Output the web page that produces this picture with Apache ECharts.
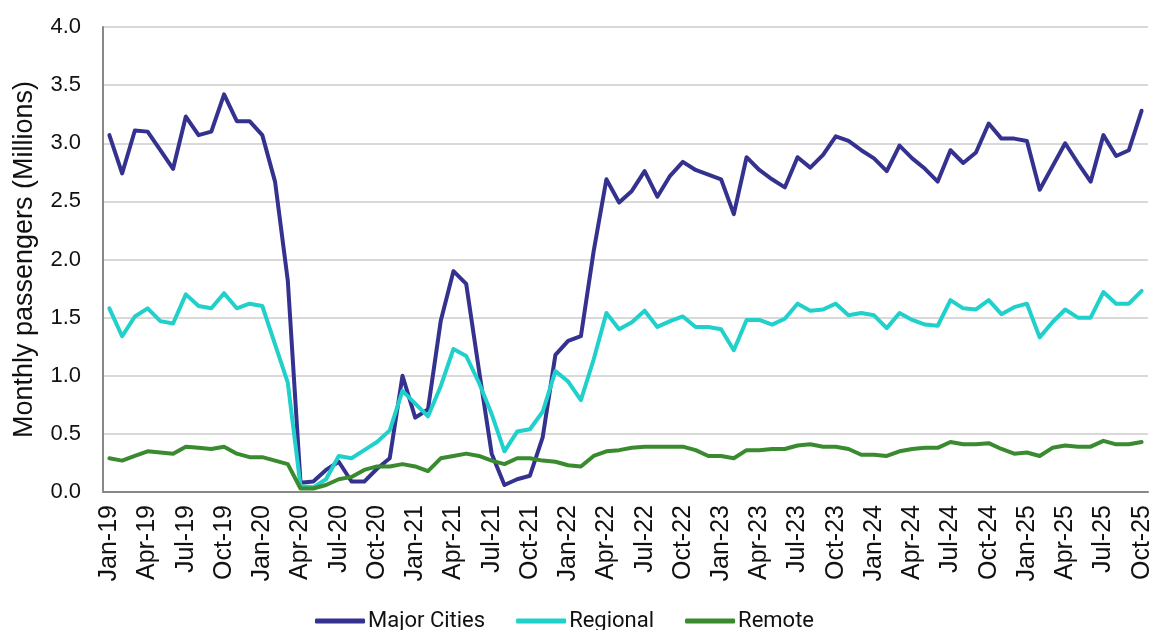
<!DOCTYPE html>
<html>
<head>
<meta charset="utf-8">
<script src="https://cdn.jsdelivr.net/npm/echarts@6/dist/echarts.min.js"></script>
<style>
  html, body { margin: 0; padding: 0; background: #fff; }
  #main { width: 1153px; height: 630px; }
</style>
</head>
<body>
<div id="main"></div>
<script>
var monthNames = ['Jan', 'Feb', 'Mar', 'Apr', 'May', 'Jun', 'Jul', 'Aug', 'Sep', 'Oct', 'Nov', 'Dec'];
var years = ['19', '20', '21', '22', '23', '24', '25'];
var lastYearMonths = 10; // 2025 runs to Oct

var months = [];
years.forEach(function (y, yi) {
    var n = yi === years.length - 1 ? lastYearMonths : 12;
    for (var m = 0; m < n; m++) months.push(monthNames[m] + '-' + y);
});

var majorCities = [
    3.07, 2.74, 3.11, 3.10, 2.94, 2.78, 3.23, 3.07, 3.10, 3.42, 3.19, 3.19,
    3.07, 2.67, 1.82, 0.08, 0.09, 0.19, 0.26, 0.09, 0.09, 0.20, 0.29, 1.00,
    0.64, 0.71, 1.47, 1.90, 1.79, 1.05, 0.33, 0.06, 0.11, 0.14, 0.47, 1.18,
    1.30, 1.34, 2.07, 2.69, 2.49, 2.59, 2.76, 2.54, 2.72, 2.84, 2.77, 2.73,
    2.69, 2.39, 2.88, 2.77, 2.69, 2.62, 2.88, 2.79, 2.90, 3.06, 3.02, 2.94,
    2.87, 2.76, 2.98, 2.87, 2.78, 2.67, 2.94, 2.83, 2.92, 3.17, 3.04, 3.04,
    3.02, 2.60, 2.80, 3.00, 2.83, 2.67, 3.07, 2.89, 2.94, 3.28
];
var regional = [
    1.58, 1.34, 1.51, 1.58, 1.47, 1.45, 1.70, 1.60, 1.58, 1.71, 1.58, 1.62,
    1.60, 1.27, 0.94, 0.05, 0.04, 0.11, 0.31, 0.29, 0.36, 0.43, 0.53, 0.87,
    0.76, 0.65, 0.91, 1.23, 1.17, 0.94, 0.67, 0.35, 0.52, 0.54, 0.69, 1.04,
    0.95, 0.79, 1.14, 1.54, 1.40, 1.46, 1.56, 1.42, 1.47, 1.51, 1.42, 1.42,
    1.40, 1.22, 1.48, 1.48, 1.44, 1.49, 1.62, 1.56, 1.57, 1.62, 1.52, 1.54,
    1.52, 1.41, 1.54, 1.48, 1.44, 1.43, 1.65, 1.58, 1.57, 1.65, 1.53, 1.59,
    1.62, 1.33, 1.46, 1.57, 1.50, 1.50, 1.72, 1.62, 1.62, 1.73
];
var remote = [
    0.29, 0.27, 0.31, 0.35, 0.34, 0.33, 0.39, 0.38, 0.37, 0.39, 0.33, 0.30,
    0.30, 0.27, 0.24, 0.03, 0.03, 0.06, 0.11, 0.13, 0.19, 0.22, 0.22, 0.24,
    0.22, 0.18, 0.29, 0.31, 0.33, 0.31, 0.27, 0.24, 0.29, 0.29, 0.27, 0.26,
    0.23, 0.22, 0.31, 0.35, 0.36, 0.38, 0.39, 0.39, 0.39, 0.39, 0.36, 0.31,
    0.31, 0.29, 0.36, 0.36, 0.37, 0.37, 0.40, 0.41, 0.39, 0.39, 0.37, 0.32,
    0.32, 0.31, 0.35, 0.37, 0.38, 0.38, 0.43, 0.41, 0.41, 0.42, 0.37, 0.33,
    0.34, 0.31, 0.38, 0.40, 0.39, 0.39, 0.44, 0.41, 0.41, 0.43
];

var chartDom = document.getElementById('main');
var myChart = echarts.init(chartDom, null, { renderer: 'canvas' });

function lineSeries(name, data, color) {
    return {
        name: name,
        type: 'line',
        data: data,
        symbol: 'none',
        color: color,
        lineStyle: { width: 4, color: color, join: 'round', cap: 'round' },
        emphasis: { disabled: true }
    };
}

var option = {
    animation: false,
    backgroundColor: '#ffffff',
    grid: { left: 103, right: 5, top: 27, bottom: 138, containLabel: false, outerBoundsMode: 'none' },
    legend: {
        top: 605,
        left: 310,
        itemWidth: 50,
        itemHeight: 5,
        itemGap: 31,
        icon: 'roundRect',
        textStyle: { fontFamily: 'Roboto', fontSize: 22, color: '#111', padding: [0, 0, 0, -2] },
        data: ['Major Cities', 'Regional', 'Remote']
    },
    xAxis: {
        type: 'category',
        data: months,
        boundaryGap: true,
        axisLine: { lineStyle: { color: '#888', width: 2 } },
        axisTick: { show: false },
        axisLabel: {
            interval: 2,
            rotate: 90,
            margin: 13,
            fontFamily: 'Liberation Sans',
            fontSize: 25,
            color: '#111'
        },
        splitLine: { show: false }
    },
    yAxis: {
        type: 'value',
        min: 0,
        max: 4,
        interval: 0.5,
        name: 'Monthly passengers (Millions)',
        nameLocation: 'middle',
        nameGap: 65,
        nameTextStyle: { fontFamily: 'Liberation Sans', fontSize: 27, color: '#111' },
        axisLine: { show: true, lineStyle: { color: '#888', width: 2 } },
        axisTick: { show: false },
        axisLabel: {
            margin: 22,
            fontFamily: 'Liberation Sans',
            fontSize: 22,
            color: '#111',
            formatter: function (v) { return v.toFixed(1); }
        },
        splitLine: { lineStyle: { color: '#d9d9d9', width: 2 } }
    },
    series: [
        lineSeries('Major Cities', majorCities, '#35318f'),
        lineSeries('Regional', regional, '#20d0ca'),
        lineSeries('Remote', remote, '#3a8a2f')
    ]
};

option && myChart.setOption(option);
</script>
</body>
</html>
